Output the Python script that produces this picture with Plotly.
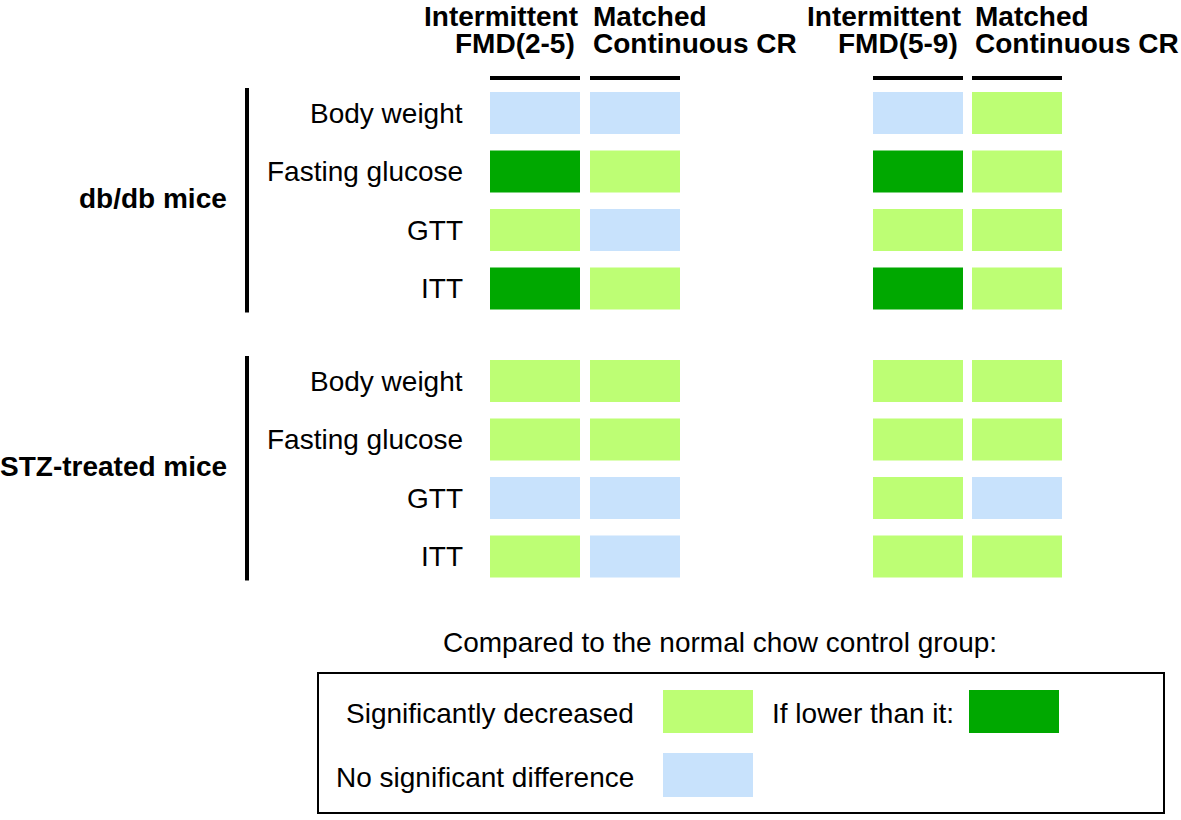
import plotly.graph_objects as go

# ---- data ----
column_labels = [["Intermittent", "FMD(2-5)"], ["Matched", "Continuous CR"],
                 ["Intermittent", "FMD(5-9)"], ["Matched", "Continuous CR"]]
groups = ["db/db mice", "STZ-treated mice"]
row_labels = ["Body weight", "Fasting glucose", "GTT", "ITT"]
# 0 = no significant difference, 1 = significantly decreased, 2 = lower than matched CR
dbdb_status = [[0, 0, 0, 1],
               [2, 1, 2, 1],
               [1, 0, 1, 1],
               [2, 1, 2, 1]]
stz_status = [[1, 1, 1, 1],
              [1, 1, 1, 1],
              [0, 0, 1, 0],
              [1, 0, 1, 1]]
status_colors = {0: "#c8e2fc", 1: "#bdfe74", 2: "#00a800"}
legend_title = "Compared to the normal chow control group:"
legend_items = ["Significantly decreased", "No significant difference", "If lower than it:"]

# ---- layout geometry (pixel-like coordinates) ----
col_left = [490, 590, 873, 972]
cell_w = 90
cell_h = 42
group_top = [92, 360]
row_step = 58.5
FONT = "Liberation Sans, Arial, sans-serif"
FS = 28

fig = go.Figure()
shapes = []
ann = []

def rect(x0, y0, x1, y1, color, line=None):
    shapes.append(dict(type="rect", xref="x", yref="y", x0=x0, y0=y0, x1=x1, y1=y1,
                       fillcolor=color, line=dict(width=0) if line is None else line,
                       layer="above"))

def text(x, y, s, anchor="right", bold=False, size=FS, yanchor="middle"):
    ann.append(dict(x=x, y=y, xref="x", yref="y", text=("<b>%s</b>" % s) if bold else s,
                    showarrow=False, xanchor=anchor, yanchor=yanchor, borderpad=0,
                    font=dict(family=FONT, size=size, color="black")))

# headers
for ci, (l1, l2) in enumerate(column_labels):
    if ci % 2 == 0:
        text(col_left[ci] + cell_w - 1, 0, l1, "right", True, yanchor="top")
        text(col_left[ci] + cell_w - 4, 43, l2, "right", True)
    else:
        text(col_left[ci] + 2, 0, l1, "left", True, yanchor="top")
        text(col_left[ci] + 2, 43, l2, "left", True)
    shapes.append(dict(type="line", xref="x", yref="y", x0=col_left[ci], x1=col_left[ci] + cell_w,
                       y0=78, y1=78, line=dict(color="black", width=4)))

# cells
for gi, status in enumerate([dbdb_status, stz_status]):
    top = group_top[gi]
    for ri, row in enumerate(status):
        y0 = top + ri * row_step
        text(464, y0 + cell_h / 2, row_labels[ri], "right")
        for ci, v in enumerate(row):
            rect(col_left[ci], y0, col_left[ci] + cell_w, y0 + cell_h, status_colors[v])
    shapes.append(dict(type="line", xref="x", yref="y", x0=247, x1=247,
                       y0=top - 4, y1=top + 3 * row_step + cell_h + 3,
                       line=dict(color="black", width=4)))
    text(228, top + 106, groups[gi], "right", True)

# legend
text(442, 642, legend_title, "left")
shapes.append(dict(type="rect", xref="x", yref="y", x0=318, x1=1164, y0=673, y1=813,
                   line=dict(color="black", width=2), fillcolor="rgba(0,0,0,0)"))
rect(663, 690, 753, 733, status_colors[1])
rect(663, 753, 753, 797, status_colors[0])
rect(969, 690, 1059, 733, status_colors[2])
text(635, 713, legend_items[0], "right")
text(635, 777, legend_items[1], "right")
text(771, 713, legend_items[2], "left")

fig.update_layout(
    width=1181, height=820, margin=dict(l=0, r=0, t=0, b=0),
    paper_bgcolor="white", plot_bgcolor="white",
    xaxis=dict(range=[0, 1181], visible=False, fixedrange=True),
    yaxis=dict(range=[820, 0], visible=False, fixedrange=True),
    shapes=shapes, annotations=ann, showlegend=False,
)
fig.write_html("out.html", config={"displayModeBar": False},
               post_script="document.body.style.margin='0';document.body.style.overflow='hidden';")
